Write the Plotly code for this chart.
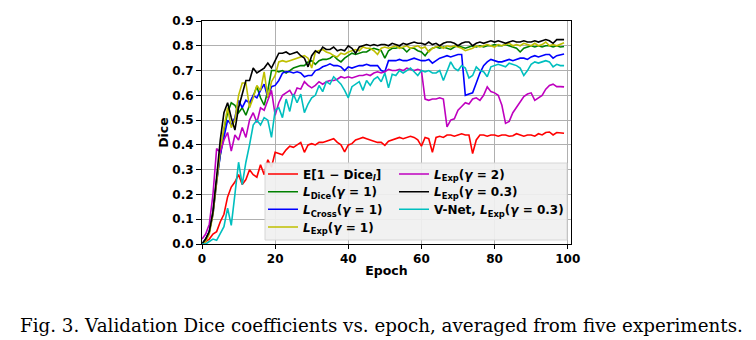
import plotly.graph_objects as go

epochs = list(range(100))

dice_red = [0.0, 0.01, 0.02, 0.04, 0.05, 0.09, 0.12, 0.19, 0.23, 0.25,
            0.28, 0.24, 0.26, 0.30, 0.28, 0.27, 0.32, 0.28, 0.34, 0.31,
            0.37, 0.365, 0.36, 0.38, 0.395, 0.39, 0.40, 0.41, 0.37, 0.40,
            0.405, 0.40, 0.41, 0.41, 0.415, 0.42, 0.425, 0.41, 0.40, 0.372,
            0.40, 0.405, 0.42, 0.425, 0.43, 0.425, 0.42, 0.415, 0.41, 0.41,
            0.398, 0.415, 0.42, 0.425, 0.43, 0.425, 0.43, 0.435, 0.43, 0.42,
            0.395, 0.43, 0.425, 0.37, 0.43, 0.435, 0.43, 0.44, 0.44, 0.435,
            0.44, 0.445, 0.44, 0.44, 0.365, 0.42, 0.44, 0.44, 0.435, 0.44,
            0.44, 0.435, 0.44, 0.44, 0.435, 0.437, 0.445, 0.44, 0.435, 0.44,
            0.44, 0.435, 0.445, 0.44, 0.45, 0.452, 0.44, 0.45, 0.448, 0.447]

dice_green = [0.0, 0.02, 0.05, 0.13, 0.26, 0.37, 0.46, 0.53, 0.57, 0.56,
              0.53, 0.55, 0.52, 0.56, 0.60, 0.635, 0.59, 0.56, 0.62, 0.70,
              0.70, 0.695, 0.70, 0.69, 0.70, 0.71, 0.715, 0.72, 0.72, 0.735,
              0.74, 0.725, 0.74, 0.745, 0.745, 0.75, 0.76, 0.745, 0.735, 0.75,
              0.76, 0.77, 0.765, 0.77, 0.775, 0.775, 0.785, 0.79, 0.785, 0.78,
              0.75, 0.78, 0.79, 0.79, 0.795, 0.79, 0.775, 0.79, 0.79, 0.78,
              0.775, 0.76, 0.78, 0.79, 0.795, 0.79, 0.795, 0.79, 0.785, 0.795,
              0.80, 0.795, 0.79, 0.795, 0.80, 0.795, 0.80, 0.795, 0.80, 0.80,
              0.805, 0.80, 0.80, 0.805, 0.80, 0.795, 0.79, 0.775, 0.79, 0.795,
              0.80, 0.795, 0.80, 0.795, 0.80, 0.80, 0.795, 0.80, 0.795, 0.797]

dice_blue = [0.0, 0.02, 0.05, 0.12, 0.25, 0.36, 0.43, 0.50, 0.48, 0.51,
             0.58, 0.55, 0.58, 0.57, 0.60, 0.59, 0.62, 0.645, 0.59, 0.635,
             0.64, 0.66, 0.69, 0.695, 0.695, 0.69, 0.695, 0.69, 0.675, 0.68,
             0.68, 0.70, 0.705, 0.715, 0.72, 0.727, 0.72, 0.72, 0.715, 0.70,
             0.715, 0.71, 0.715, 0.72, 0.72, 0.725, 0.72, 0.72, 0.72, 0.70,
             0.695, 0.74, 0.74, 0.74, 0.745, 0.74, 0.74, 0.745, 0.75, 0.745,
             0.74, 0.74, 0.745, 0.73, 0.74, 0.75, 0.755, 0.76, 0.755, 0.76,
             0.765, 0.765, 0.60, 0.605, 0.61, 0.65, 0.69, 0.72, 0.735, 0.745,
             0.74, 0.735, 0.735, 0.74, 0.745, 0.74, 0.745, 0.75, 0.75, 0.745,
             0.755, 0.76, 0.755, 0.76, 0.765, 0.765, 0.75, 0.76, 0.765, 0.767]

dice_yellow = [0.0, 0.01, 0.04, 0.12, 0.25, 0.38, 0.47, 0.55, 0.47, 0.50,
               0.60, 0.65, 0.65, 0.55, 0.59, 0.64, 0.62, 0.695, 0.59, 0.655,
               0.68, 0.735, 0.74, 0.735, 0.74, 0.745, 0.75, 0.755, 0.76, 0.75,
               0.71, 0.775, 0.78, 0.785, 0.775, 0.77, 0.76, 0.755, 0.77, 0.765,
               0.775, 0.78, 0.785, 0.78, 0.795, 0.79, 0.79, 0.78, 0.765, 0.79,
               0.795, 0.79, 0.795, 0.80, 0.79, 0.795, 0.80, 0.79, 0.795, 0.80,
               0.79, 0.795, 0.775, 0.79, 0.795, 0.80, 0.79, 0.80, 0.795, 0.80,
               0.795, 0.79, 0.78, 0.785, 0.79, 0.80, 0.795, 0.80, 0.805, 0.80,
               0.795, 0.805, 0.80, 0.805, 0.81, 0.80, 0.805, 0.80, 0.81, 0.805,
               0.80, 0.81, 0.80, 0.805, 0.815, 0.80, 0.805, 0.80, 0.805, 0.812]

dice_magenta = [0.02, 0.04, 0.08, 0.20, 0.385, 0.37, 0.42, 0.45, 0.375, 0.44,
                0.42, 0.47, 0.43, 0.50, 0.53, 0.49, 0.55, 0.54, 0.58, 0.62,
                0.52, 0.57, 0.60, 0.61, 0.62, 0.595, 0.63, 0.625, 0.655, 0.64,
                0.63, 0.64, 0.655, 0.645, 0.655, 0.66, 0.66, 0.665, 0.675, 0.67,
                0.675, 0.67, 0.675, 0.68, 0.68, 0.685, 0.68, 0.69, 0.695, 0.69,
                0.695, 0.705, 0.70, 0.70, 0.705, 0.70, 0.71, 0.705, 0.70, 0.705,
                0.70, 0.585, 0.58, 0.585, 0.585, 0.59, 0.585, 0.473, 0.50, 0.505,
                0.54, 0.555, 0.57, 0.565, 0.585, 0.59, 0.58, 0.60, 0.634, 0.615,
                0.61, 0.60, 0.56, 0.487, 0.495, 0.53, 0.55, 0.57, 0.595, 0.605,
                0.61, 0.58, 0.59, 0.60, 0.625, 0.64, 0.645, 0.635, 0.635, 0.634]

dice_black = [0.0, 0.02, 0.05, 0.13, 0.27, 0.42, 0.53, 0.57, 0.51, 0.46,
              0.55, 0.60, 0.66, 0.66, 0.71, 0.69, 0.70, 0.71, 0.73, 0.71,
              0.74, 0.77, 0.77, 0.775, 0.765, 0.77, 0.775, 0.76, 0.75, 0.715,
              0.76, 0.78, 0.77, 0.795, 0.785, 0.785, 0.795, 0.78, 0.785, 0.78,
              0.80, 0.79, 0.77, 0.795, 0.80, 0.805, 0.80, 0.805, 0.80, 0.805,
              0.805, 0.80, 0.81, 0.805, 0.80, 0.81, 0.805, 0.81, 0.815, 0.81,
              0.81, 0.805, 0.815, 0.805, 0.81, 0.80, 0.81, 0.815, 0.815, 0.81,
              0.80, 0.81, 0.815, 0.815, 0.80, 0.81, 0.815, 0.81, 0.815, 0.82,
              0.815, 0.82, 0.815, 0.81, 0.815, 0.82, 0.815, 0.815, 0.82, 0.815,
              0.815, 0.82, 0.815, 0.82, 0.825, 0.82, 0.81, 0.825, 0.825, 0.825]

dice_cyan = [0.0, 0.0, 0.01, 0.02, 0.015, 0.04, 0.07, 0.145, 0.075, 0.20,
             0.33, 0.24, 0.33, 0.40, 0.48, 0.50, 0.48, 0.51, 0.50, 0.43,
             0.54, 0.55, 0.51, 0.585, 0.535, 0.605, 0.57, 0.605, 0.53, 0.565,
             0.59, 0.60, 0.64, 0.615, 0.655, 0.645, 0.675, 0.66, 0.645, 0.62,
             0.59, 0.635, 0.645, 0.655, 0.62, 0.66, 0.64, 0.665, 0.675, 0.655,
             0.69, 0.63, 0.685, 0.68, 0.70, 0.69, 0.70, 0.71, 0.695, 0.68,
             0.70, 0.695, 0.70, 0.69, 0.69, 0.70, 0.66, 0.70, 0.735, 0.71,
             0.70, 0.72, 0.71, 0.67, 0.68, 0.715, 0.70, 0.695, 0.675, 0.715,
             0.72, 0.725, 0.72, 0.715, 0.73, 0.725, 0.72, 0.71, 0.68, 0.70,
             0.725, 0.735, 0.73, 0.735, 0.74, 0.735, 0.715, 0.725, 0.72, 0.72]

series_names = [
    "E[1 − Dice<sub><i>l</i></sub>]",
    "<i>L</i><sub>Dice</sub>(<i>γ</i> = 1)",
    "<i>L</i><sub>Cross</sub>(<i>γ</i> = 1)",
    "<i>L</i><sub>Exp</sub>(<i>γ</i> = 1)",
    "<i>L</i><sub>Exp</sub>(<i>γ</i> = 2)",
    "<i>L</i><sub>Exp</sub>(<i>γ</i> = 0.3)",
    "V-Net, <i>L</i><sub>Exp</sub>(<i>γ</i> = 0.3)",
]
series_values = [dice_red, dice_green, dice_blue, dice_yellow,
                 dice_magenta, dice_black, dice_cyan]
series_colors = ["#ff0000", "#008000", "#0000ff", "#bfbf00",
                 "#bf00bf", "#000000", "#00bfbf"]

x_ticks = [0, 20, 40, 60, 80, 100]
y_ticks = [0.0, 0.1, 0.2, 0.3, 0.4, 0.5, 0.6, 0.7, 0.8, 0.9]

W, H = 756, 340
L, R, T, B = 202, 185, 21, 96
pw, ph = W - L - R, H - T - B

def px(xp):
    return (xp - L) / pw

def py(yp):
    return (H - B - yp) / ph

tick_font = dict(family="DejaVu Sans", size=12, color="black", weight="bold")
leg_font = dict(family="DejaVu Sans", size=12, color="black", weight="bold")
lab_font = dict(family="DejaVu Sans", size=12.5, color="black", weight="bold")

# legend entry slots (pixel positions of each entry: column left, row centre)
col_left = [263, 263, 263, 263, 394, 394, 394]
row_mid = [174, 191.7, 209.3, 227, 174, 191.7, 209.3]

fig = go.Figure()
legend_layouts = {}
for i, (name, vals, col) in enumerate(zip(series_names, series_values, series_colors)):
    key = "legend" if i == 0 else f"legend{i + 1}"
    fig.add_trace(go.Scatter(x=epochs, y=vals, mode="lines", name=name,
                             line=dict(color=col, width=1.6), legend=key))
    legend_layouts[key] = dict(x=px(col_left[i]), y=py(row_mid[i]), xanchor="left",
                               yanchor="middle", bgcolor="rgba(0,0,0,0)", borderwidth=0,
                               font=leg_font, itemwidth=30)

fig.update_layout(
    width=W, height=H,
    margin=dict(l=L, r=R, t=T, b=B),
    paper_bgcolor="white", plot_bgcolor="white",
    xaxis=dict(range=[0, 100.9], tickvals=x_ticks, showgrid=True, gridcolor="#b0b0b0",
               gridwidth=1, zeroline=False, showline=True, linecolor="black", linewidth=1,
               mirror=True, ticks="outside", ticklen=4, tickcolor="black",
               tickfont=tick_font,
               title=dict(text="Epoch", font=lab_font, standoff=0)),
    yaxis=dict(range=[0, 0.9], tickvals=y_ticks, tickformat=".1f", showgrid=True,
               gridcolor="#b0b0b0", gridwidth=1, zeroline=False, showline=True,
               linecolor="black", linewidth=1, mirror=True, ticks="outside", ticklen=5,
               tickcolor="black", tickfont=tick_font,
               title=dict(text="Dice", font=lab_font, standoff=0)),
    showlegend=True,
    **legend_layouts,
)

# legend frame
fig.add_shape(type="rect", xref="paper", yref="paper", x0=px(265), x1=px(567),
              y0=py(240), y1=py(163),
              fillcolor="rgba(240,240,240,0.92)", line=dict(color="#d6d6d6", width=1),
              layer="above")

fig.add_annotation(text="Fig. 3. Validation Dice coefficients vs. epoch, averaged from five experiments.",
                   xref="paper", yref="paper", x=px(381), y=py(325), xanchor="center",
                   yanchor="middle", showarrow=False,
                   font=dict(family="DejaVu Serif", size=18.3, color="black"))

fig.write_html("out.html")
